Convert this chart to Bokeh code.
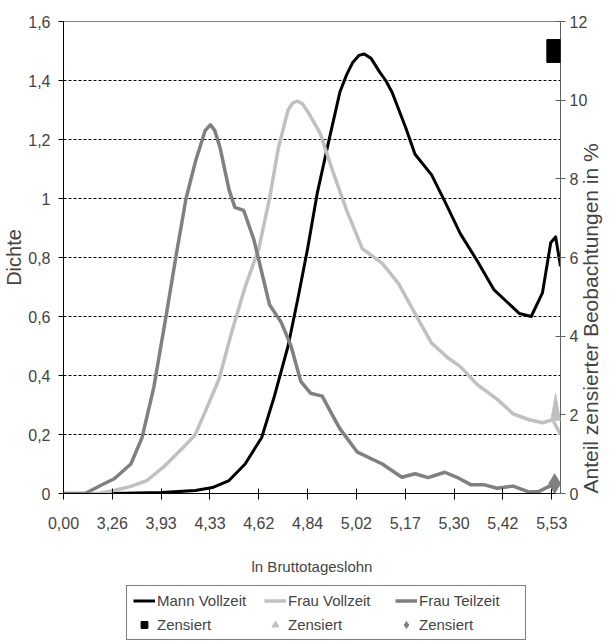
import math
from bokeh.plotting import figure
from bokeh.layouts import column
from bokeh.models import (Range1d, LinearAxis, FixedTicker, CustomJSTickFormatter,
                          Legend, LegendItem, PolyAnnotation)
from bokeh.embed import file_html
from bokeh.resources import INLINE

# ---------------- data ----------------
x_tick_labels = ["0,00", "3,26", "3,93", "4,33", "4,62", "4,84",
                 "5,02", "5,17", "5,30", "5,42", "5,53"]
x_tick_pos = list(range(len(x_tick_labels)))
x_end = 10.18  # position of the right axis (in tick-index units)

mann_x = [0, 1.0, 2.0, 2.7, 3.05, 3.39, 3.72, 4.06, 4.32, 4.60, 4.80, 5.00, 5.20, 5.40,
          5.66, 5.80, 5.92, 6.05, 6.16, 6.30, 6.47, 6.60, 6.73, 7.01, 7.20, 7.54, 7.81,
          8.13, 8.47, 8.82, 9.08, 9.34, 9.58, 9.81, 9.98, 10.08, 10.18]
mann_y = [0, 0, 0.003, 0.01, 0.02, 0.044, 0.10, 0.19, 0.33, 0.50, 0.66, 0.83, 1.02, 1.17,
          1.36, 1.42, 1.46, 1.485, 1.49, 1.475, 1.43, 1.40, 1.36, 1.24, 1.15, 1.08, 0.99,
          0.88, 0.79, 0.69, 0.65, 0.61, 0.60, 0.68, 0.85, 0.87, 0.77]

frau_voll_x = [0, 0.7, 1.04, 1.38, 1.71, 2.05, 2.39, 2.69, 2.91, 3.19, 3.45, 3.72, 4.00,
               4.22, 4.40, 4.60, 4.70, 4.80, 4.90, 5.02, 5.26, 5.52, 5.80, 6.12, 6.53,
               6.87, 7.20, 7.54, 7.87, 8.13, 8.47, 8.88, 9.21, 9.54, 9.81, 10.02, 10.18]
frau_voll_y = [0, 0, 0.01, 0.024, 0.044, 0.09, 0.146, 0.197, 0.28, 0.39, 0.55, 0.70, 0.83,
               1.00, 1.17, 1.30, 1.325, 1.33, 1.32, 1.29, 1.22, 1.09, 0.96, 0.83, 0.78,
               0.71, 0.61, 0.51, 0.46, 0.43, 0.37, 0.32, 0.27, 0.25, 0.24, 0.25, 0.20]

frau_teil_x = [0, 0.44, 0.84, 1.04, 1.38, 1.61, 1.85, 2.11, 2.31, 2.51, 2.71, 2.90, 3.01,
               3.10, 3.21, 3.39, 3.51, 3.69, 3.90, 4.06, 4.22, 4.46, 4.66, 4.86, 5.06,
               5.30, 5.46, 5.66, 6.02, 6.53, 6.93, 7.20, 7.47, 7.81, 8.07, 8.34, 8.61,
               8.88, 9.21, 9.54, 9.74, 10.02, 10.18]
frau_teil_y = [0, 0, 0.034, 0.05, 0.10, 0.19, 0.36, 0.61, 0.81, 1.00, 1.13, 1.23, 1.25,
               1.23, 1.17, 1.03, 0.97, 0.96, 0.86, 0.75, 0.64, 0.58, 0.50, 0.38, 0.34,
               0.33, 0.28, 0.22, 0.14, 0.10, 0.055, 0.067, 0.054, 0.072, 0.054, 0.03,
               0.03, 0.018, 0.025, 0.005, 0.007, 0.03, 0.034]

# share of censored observations in % (right axis)
zensiert_mann = 11.25
zensiert_frau_voll = 2.2
zensiert_frau_teil = 0.25

left_max = 1.6
right_max = 12
left_ticks = [0, 0.2, 0.4, 0.6, 0.8, 1.0, 1.2, 1.4, 1.6]
grid_ticks = [0.2, 0.4, 0.6, 0.8, 1.0, 1.2, 1.4]
right_ticks = [0, 2, 4, 6, 8, 10, 12]

# ---------------- style ----------------
BLACK = "#000000"
LIGHT = "#c0c0c0"
GREY = "#808080"
SANS = "Liberation Sans"

p = figure(width=616, height=580, output_backend="svg", toolbar_location=None,
           x_range=Range1d(0, x_end), y_range=Range1d(0, left_max),
           min_border_left=58, min_border_right=49, min_border_top=21,
           min_border_bottom=87)
p.background_fill_color = "white"
p.border_fill_color = "white"
p.outline_line_color = GREY
p.outline_line_width = 1
p.extra_y_ranges = {"right": Range1d(0, right_max)}

# x axis
p.xaxis.ticker = FixedTicker(ticks=x_tick_pos)
p.xaxis.formatter = CustomJSTickFormatter(args=dict(labels=x_tick_labels), code="""
    var l = labels[Math.round(tick)];
    return (l === undefined) ? '' : l;
""")
p.xaxis.axis_label = "ln Bruttotageslohn"
p.xaxis.axis_label_text_font = SANS
p.xaxis.axis_label_text_font_style = "normal"
p.xaxis.axis_label_text_font_size = "15px"
p.xaxis.axis_label_standoff = 26
p.xaxis.major_label_text_font = SANS
p.xaxis.major_label_text_font_size = "16px"
p.xaxis.major_label_standoff = 17
p.xaxis.major_tick_in = 5
p.xaxis.major_tick_out = 6
p.xaxis.minor_tick_line_color = None
p.xaxis.axis_line_color = BLACK
p.xaxis.major_tick_line_color = BLACK

# left axis
p.yaxis.ticker = FixedTicker(ticks=left_ticks)
p.yaxis.formatter = CustomJSTickFormatter(code="""
    var s = (Math.round(tick * 10) / 10).toString();
    return s.replace('.', ',');
""")
p.yaxis.axis_label = "Dichte"
p.yaxis.axis_label_text_font = SANS
p.yaxis.axis_label_text_font_style = "normal"
p.yaxis.axis_label_text_font_size = "20px"
p.yaxis.axis_label_standoff = 0
p.yaxis.major_label_text_font = SANS
p.yaxis.major_label_text_font_size = "16px"
p.yaxis.major_label_standoff = 8
p.yaxis.major_tick_in = 0
p.yaxis.major_tick_out = 5
p.yaxis.minor_tick_line_color = None
p.yaxis.axis_line_color = BLACK

# right axis
ax_r = LinearAxis(y_range_name="right", ticker=FixedTicker(ticks=right_ticks))
ax_r.axis_label = "Anteil zensierter Beobachtungen in %"
ax_r.axis_label_orientation = math.pi / 2
ax_r.axis_label_align = "start"
ax_r.axis_label_text_font = SANS
ax_r.axis_label_text_font_style = "normal"
ax_r.axis_label_text_font_size = "21px"
ax_r.axis_label_standoff = 0
ax_r.major_label_text_font = SANS
ax_r.major_label_text_font_size = "16px"
ax_r.major_label_standoff = 4
ax_r.major_tick_in = 5
ax_r.major_tick_out = 5
ax_r.minor_tick_line_color = None
ax_r.axis_line_color = "#606060"
ax_r.major_tick_line_color = "#606060"
p.add_layout(ax_r, "right")

p.xgrid.grid_line_color = None
p.ygrid.ticker = FixedTicker(ticks=grid_ticks)
p.ygrid.grid_line_color = BLACK
p.ygrid.grid_line_width = 1
p.ygrid.grid_line_dash = "3 2"

# curves
p.line(mann_x, mann_y, line_color=BLACK, line_width=3, line_join="round")
p.line(frau_voll_x, frau_voll_y, line_color=LIGHT, line_width=3.5, line_join="round")
p.line(frau_teil_x, frau_teil_y, line_color=GREY, line_width=3.5, line_join="round")

# marker shapes at the right axis; right-axis values converted to left-axis units
k = left_max / right_max
sq_hw, sq_hh = 0.14, 0.29 * k
tr_hw, tr_hh = 0.10, 0.34 * k
di_hw, di_hh = 0.12, 0.25 * k
sq_x, sq_y = x_end - sq_hw, zensiert_mann * k
tr_x, tr_y = x_end - tr_hw, zensiert_frau_voll * k
di_x, di_y = x_end - di_hw, zensiert_frau_teil * k

p.add_layout(PolyAnnotation(
    xs=[sq_x - sq_hw, sq_x + sq_hw, sq_x + sq_hw, sq_x - sq_hw],
    ys=[sq_y - sq_hh, sq_y - sq_hh, sq_y + sq_hh, sq_y + sq_hh],
    fill_color=BLACK, fill_alpha=1, line_color=BLACK, line_alpha=1))
p.add_layout(PolyAnnotation(
    xs=[tr_x - tr_hw, tr_x + tr_hw, tr_x],
    ys=[tr_y - tr_hh, tr_y - tr_hh, tr_y + tr_hh],
    fill_color=LIGHT, fill_alpha=1, line_color=LIGHT, line_alpha=1))
p.add_layout(PolyAnnotation(
    xs=[di_x - di_hw, di_x, di_x + di_hw, di_x],
    ys=[di_y, di_y - di_hh, di_y, di_y + di_hh],
    fill_color=GREY, fill_alpha=1, line_color=GREY, line_alpha=1))

# ---------------- legend (separate strip below the chart) ----------------
leg = figure(width=616, height=62, output_backend="svg", toolbar_location=None,
             x_range=Range1d(0, 1), y_range=Range1d(-2, -1),
             x_axis_location=None, y_axis_location=None,
             min_border_left=0, min_border_right=0, min_border_top=0, min_border_bottom=0)
leg.grid.visible = False
leg.outline_line_color = None
leg.background_fill_color = "white"
leg.border_fill_color = "white"

# same series, lying outside this strip's visible range: they only feed the legend
l_m = leg.line(mann_x, mann_y, line_color=BLACK, line_width=3)
l_fv = leg.line(frau_voll_x, frau_voll_y, line_color=LIGHT, line_width=3.5)
l_ft = leg.line(frau_teil_x, frau_teil_y, line_color=GREY, line_width=3.5)
z_m = leg.scatter([x_end], [zensiert_mann], marker="square", size=8, color=BLACK)
z_fv = leg.scatter([x_end], [zensiert_frau_voll], marker="triangle", size=8, color=LIGHT)
z_ft = leg.scatter([x_end], [zensiert_frau_teil], marker="diamond", size=8, color=GREY)

legend = Legend(items=[
    LegendItem(label="Mann Vollzeit", renderers=[l_m]),
    LegendItem(label="Frau Vollzeit", renderers=[l_fv]),
    LegendItem(label="Frau Teilzeit", renderers=[l_ft]),
    LegendItem(label="Zensiert", renderers=[z_m]),
    LegendItem(label="Zensiert", renderers=[z_fv]),
    LegendItem(label="Zensiert", renderers=[z_ft]),
], location=(63, 2), orientation="horizontal", ncols=3,
    glyph_width=22, glyph_height=17, label_height=17, label_width=100,
    label_standoff=2, spacing=7, padding=6, margin=0,
    label_text_font=SANS, label_text_font_size="15px",
    border_line_color=BLACK, border_line_width=1,
    background_fill_color="white", background_fill_alpha=1)
leg.add_layout(legend)

open("out.html", "w").write(file_html(column(p, leg, spacing=0), INLINE))
